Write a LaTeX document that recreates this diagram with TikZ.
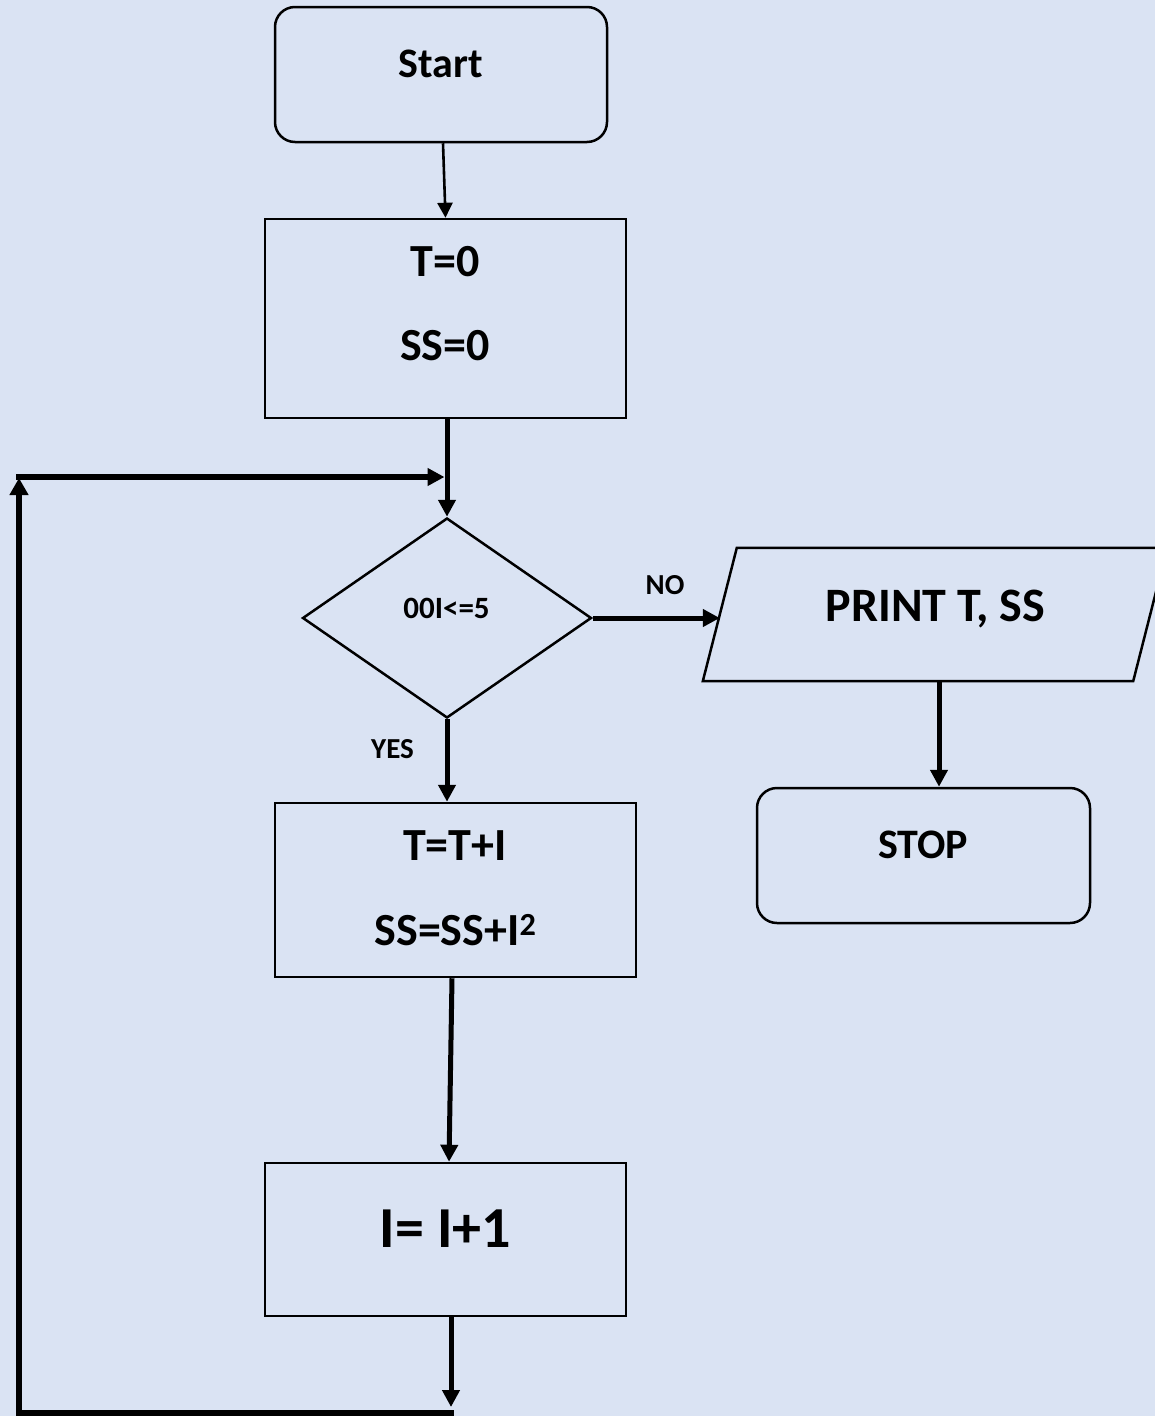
\documentclass[tikz,border=0pt]{standalone}
\usepackage{fontspec}
\setmainfont{Carlito}
\usetikzlibrary{arrows.meta,shapes.geometric}
\definecolor{bgblue}{RGB}{218,227,243}
\tikzset{
  box/.style={draw=black, line width=2.5pt, inner sep=0pt, rectangle},
  term/.style={box, rounded corners=20pt},
  dec/.style={draw=black, line width=2.5pt, inner sep=0pt, diamond},
  ioframe/.style={inner sep=0pt, rectangle, draw=none},
  outline/.style={draw=black, line width=2.5pt, line join=miter},
  txt/.style={inner sep=0pt, anchor=base, font=\bfseries},
  thin arrow/.style={line width=2.6pt, -{Triangle[length=15pt,width=15pt]}},
  thick arrow/.style={line width=5pt, -{Triangle[length=17pt,width=17pt]}},
  loop line/.style={line width=6pt, line cap=rect},
}
\begin{document}
\begin{tikzpicture}[x=1pt, y=-1pt]
\fill[bgblue] (0,0) rectangle (1155,1416);
\useasboundingbox (0,0) rectangle (1155,1416);
\clip (0,0) rectangle (1155,1416);

% shapes
\node[term, minimum width=332pt, minimum height=135pt] (start) at (441,74.5) {};
\node[box, minimum width=361pt, minimum height=199pt] (init) at (445.5,318.5) {};
\node[dec, minimum width=289pt, minimum height=200pt] (cond) at (447,618) {};
\node[ioframe, minimum width=430pt, minimum height=133pt] (print) at (935,614.5) {};
\draw[outline] ([xshift=-17pt]print.south west) -- ([xshift=17pt]print.north west)
  -- ([xshift=17pt]print.north east) -- ([xshift=-17pt]print.south east) -- cycle;
\node[term, minimum width=333pt, minimum height=135pt] (stop) at (923.5,855.5) {};
\node[box, minimum width=361pt, minimum height=174pt] (upd) at (455.5,890) {};
\node[box, minimum width=361pt, minimum height=153pt] (inc) at (445.5,1239.5) {};

% texts
\node[txt, font=\fontsize{42}{48}\selectfont\bfseries] (startT) at (441,77) {Start};
\node[txt, font=\fontsize{46}{54}\selectfont\bfseries] (initA) at (445,276.5) {T=0};
\node[txt, font=\fontsize{46}{54}\selectfont\bfseries] (initB) at (445,360) {SS=0};
\node[txt, font=\fontsize{31}{36}\selectfont\bfseries] (condT) at (446.5,618) {00I<=5};
\node[txt, font=\fontsize{29}{34}\selectfont\bfseries] (noT) at (665,594) {NO};
\node[txt, font=\fontsize{29}{34}\selectfont\bfseries] (yesT) at (392.5,758) {YES};
\node[txt, font=\fontsize{48}{56}\selectfont\bfseries] (printT) at (935.5,621) {PRINT T, SS};
\node[txt, font=\fontsize{42}{48}\selectfont\bfseries] (stopT) at (923,858) {STOP};
\node[txt, font=\fontsize{46}{54}\selectfont\bfseries] (updA) at (455,860.5) {T=T+I};
\node[txt, font=\fontsize{46}{54}\selectfont\bfseries] (updB) at (455.5,945) {SS=SS+I\textsuperscript{2}};
\node[txt, font=\fontsize{58}{66}\selectfont\bfseries] (incT) at (445.5,1247) {I= I+1};

% loop coordinates
\coordinate (merge) at (447,477);
\coordinate (loopBR) at (451,1413);
\coordinate (loopBL) at (19,1413);
\coordinate (loopTL) at (19,477);

% connectors
\draw[thin arrow] ([xshift=2pt]start.south) -- (init.north);
\draw[line width=5pt] ([xshift=1.5pt]init.south) -- (merge);
\draw[thick arrow] (merge) -- (cond.north);
\draw[thick arrow] (cond.east) -- (print.west |- cond.east);
\draw[thick arrow] (cond.south) -- (cond.south |- upd.north);
\draw[thick arrow] (print.south -| 939,0) -- (stop.north -| 939,0);
\draw[thick arrow] ([xshift=-3.5pt]upd.south) -- ([xshift=3.5pt]inc.north);
\draw[thick arrow] ([xshift=5.5pt]inc.south) -- ([yshift=6pt]loopBR);
\draw[loop line] (loopBR) -- (loopBL);
\draw[loop line, -{Triangle[length=17pt,width=18pt]}] (loopBL) -- ([yshift=-1pt]loopTL);
\draw[loop line, -{Triangle[length=17pt,width=17pt]}] (loopTL) -- ([xshift=-2.5pt]merge);
\end{tikzpicture}
\end{document}
